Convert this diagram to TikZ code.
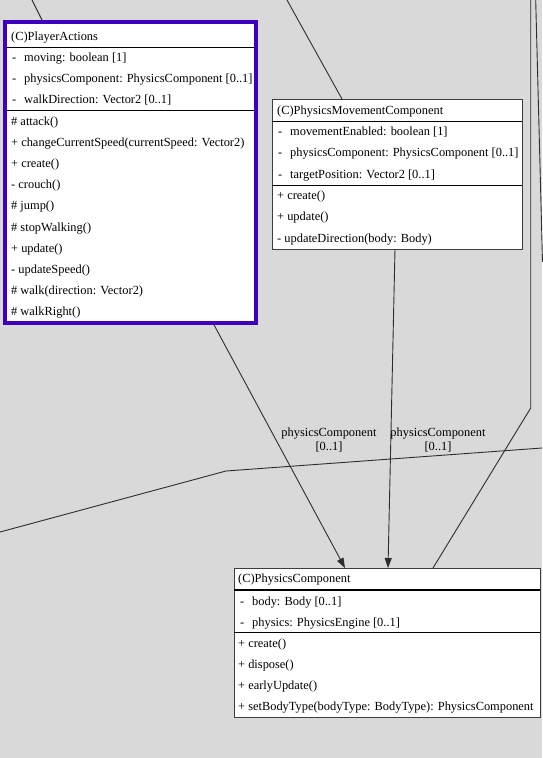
\documentclass[tikz,border=0pt]{standalone}
\usepackage{fontspec}
\setmainfont{Liberation Serif}
\usetikzlibrary{arrows.meta}

\definecolor{canvas}{RGB}{217,217,217}
\definecolor{edgegray}{RGB}{45,45,45}
\definecolor{frame}{RGB}{60,60,60}
\definecolor{accent}{RGB}{62,0,190}

\pgfdeclarelayer{canvaslayer}
\pgfdeclarelayer{links}
\pgfsetlayers{canvaslayer,links,main}

\tikzset{
  classbox/.style={draw=frame, fill=white, line width=1pt, inner sep=0pt,
    outer sep=0pt, anchor=north west, rectangle},
  selectedbox/.style={classbox, draw=accent, line width=4pt},
  sepline/.style={draw=black, line width=1pt},
  row/.style={anchor=base west, inner sep=0pt, font=\fontsize{12.4}{14}\selectfont},
  lbl/.style={anchor=base, inner sep=0pt, font=\fontsize{12.4}{14}\selectfont},
  link/.style={draw=edgegray, line width=0.9pt},
  assoc/.style={link, -{Triangle[length=10pt,width=7pt]}},
}
\newcommand{\attr}[1]{\makebox[12pt][l]{-}#1}

\begin{document}
\begin{tikzpicture}[x=1pt,y=-1pt]
  \useasboundingbox (0,0) rectangle (542,758);
  \begin{pgfonlayer}{canvaslayer}
    \fill[canvas] (0,0) rectangle (542,758);
  \end{pgfonlayer}

  % ---------- class frames
  \node[selectedbox, minimum width=250.7pt, minimum height=301pt] (pa) at (5.3,22) {};
  \node[classbox, minimum width=250pt, minimum height=150pt] (pm) at (272,99) {};
  \node[classbox, minimum width=306pt, minimum height=149pt] (pc) at (234,568) {};

  % ---------- free ends of connectors leaving the visible area
  \coordinate (offTL) at (32,0);
  \coordinate (offTM) at (287,0);
  \coordinate (offTR) at (530.7,0);
  \coordinate (bendR) at (530.7,408);
  \coordinate (offTR2) at (535.7,0);
  \coordinate (offR2) at (542.5,262);
  \coordinate (offL) at (0,532);
  \coordinate (bendL) at (226,471);
  \coordinate (offR) at (542,448);

  % ---------- connectors, kept beneath the class frames
  \begin{pgfonlayer}{links}
    \draw[link] (offTL) -- ([xshift=37.7pt]pa.north west);
    \draw[link] (offTM) -- ([xshift=70pt]pm.north west);
    \draw[link] (offTR) -- (bendR) -- ([xshift=199pt]pc.north west);
    \draw[link] (offTR2) -- (offR2);
    \draw[link] (offL) -- (bendL) -- (offR);
    \draw[assoc] ([xshift=207.7pt]pa.south west) -- ([xshift=111pt]pc.north west);
    \draw[assoc] ([xshift=123pt]pm.south west) -- ([xshift=154pt]pc.north west);
  \end{pgfonlayer}

  % ---------- association labels
  \node[lbl] (l1a) at (329,436) {physicsComponent};
  \node[lbl] (l1b) at (329,450.7) {[0..1]};
  \node[lbl] (l2a) at (438,436) {physicsComponent};
  \node[lbl] (l2b) at (438,450.7) {[0..1]};

  % ---------- PlayerActions
  \draw[sepline] (7.3,47) -- (254,47);
  \draw[sepline] (7.3,110) -- (254,110);
  \node[row] (pa-t) at (11,40) {(C)PlayerActions};
  \node[row] (pa-a1) at (12,61.5) {\attr{moving: boolean [1]}};
  \node[row] (pa-a2) at (12,82.7) {\attr{physicsComponent: PhysicsComponent [0..1]}};
  \node[row] (pa-a3) at (12,103.9) {\attr{walkDirection: Vector2 [0..1]}};
  \node[row] (pa-m1) at (11,125) {\# attack()};
  \node[row] (pa-m2) at (11,146.2) {+ changeCurrentSpeed(currentSpeed: Vector2)};
  \node[row] (pa-m3) at (11,167.4) {+ create()};
  \node[row] (pa-m4) at (11,188.6) {- crouch()};
  \node[row] (pa-m5) at (11,209.8) {\# jump()};
  \node[row] (pa-m6) at (11,231) {\# stopWalking()};
  \node[row] (pa-m7) at (11,252.2) {+ update()};
  \node[row] (pa-m8) at (11,273.4) {- updateSpeed()};
  \node[row] (pa-m9) at (11,294.6) {\# walk(direction: Vector2)};
  \node[row] (pa-m10) at (11,315.8) {\# walkRight()};

  % ---------- PhysicsMovementComponent
  \draw[sepline] (272,121) -- (522,121);
  \draw[sepline] (272,185) -- (522,185);
  \node[row] (pm-t) at (277,114.3) {(C)PhysicsMovementComponent};
  \node[row] (pm-a1) at (278,135.5) {\attr{movementEnabled: boolean [1]}};
  \node[row] (pm-a2) at (278,156.8) {\attr{physicsComponent: PhysicsComponent [0..1]}};
  \node[row] (pm-a3) at (278,178.1) {\attr{targetPosition: Vector2 [0..1]}};
  \node[row] (pm-m1) at (277,199.4) {+ create()};
  \node[row] (pm-m2) at (277,220.7) {+ update()};
  \node[row] (pm-m3) at (277,242) {- updateDirection(body: Body)};

  % ---------- PhysicsComponent
  \draw[sepline, line width=1.6pt] (234,590) -- (540,590);
  \draw[sepline] (234,632) -- (540,632);
  \node[row] (pc-t) at (238,582.7) {(C)PhysicsComponent};
  \node[row] (pc-a1) at (240,605) {\attr{body: Body [0..1]}};
  \node[row] (pc-a2) at (240,626.2) {\attr{physics: PhysicsEngine [0..1]}};
  \node[row] (pc-m1) at (238,647.2) {+ create()};
  \node[row] (pc-m2) at (238,668.4) {+ dispose()};
  \node[row] (pc-m3) at (238,689.6) {+ earlyUpdate()};
  \node[row] (pc-m4) at (238,710.8) {+ setBodyType(bodyType: BodyType): PhysicsComponent};
\end{tikzpicture}
\end{document}
